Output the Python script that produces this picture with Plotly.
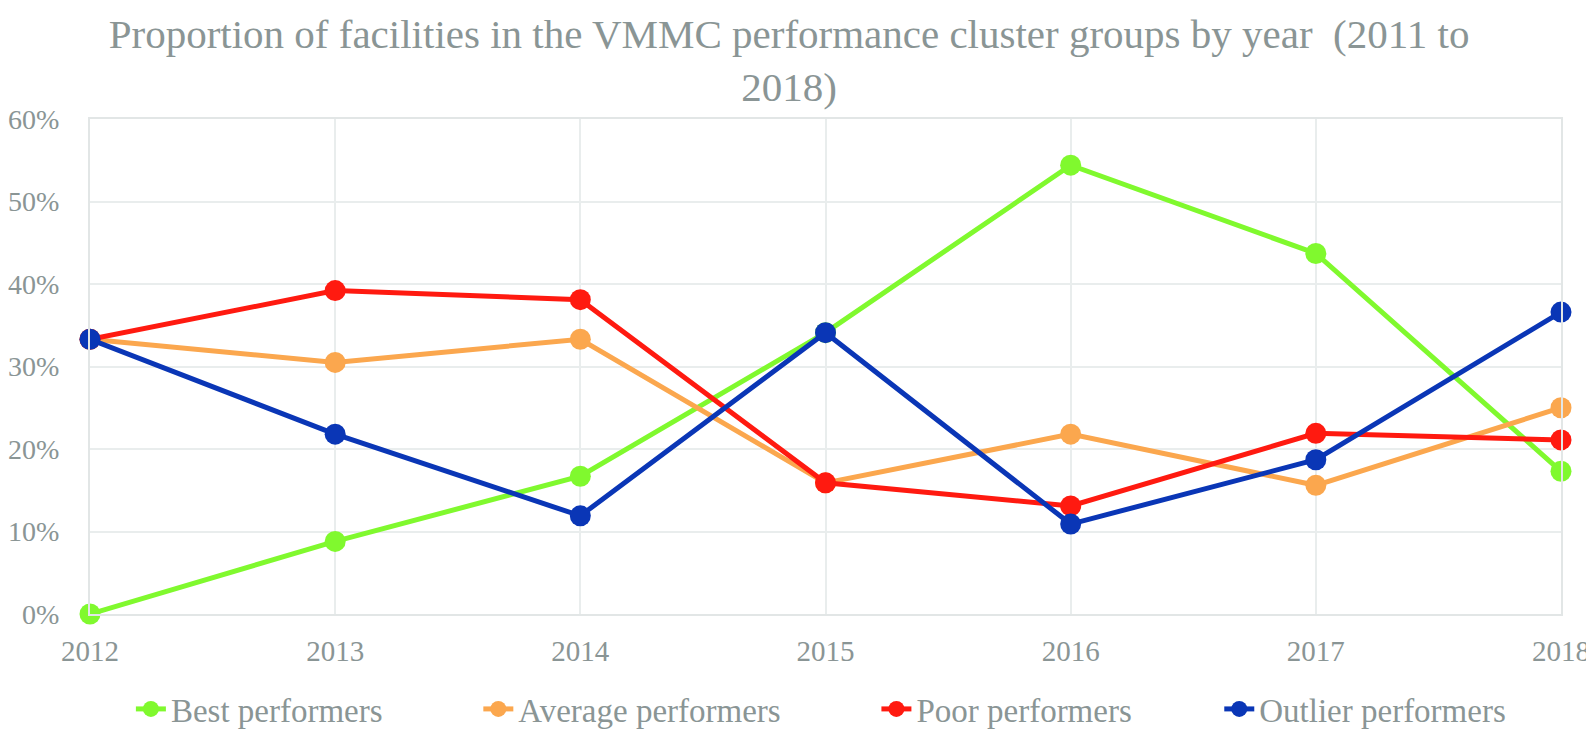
import plotly.graph_objects as go

years = [2012, 2013, 2014, 2015, 2016, 2017, 2018]
best = [0.0, 8.8, 16.7, 34.1, 54.4, 43.7, 17.3]
average = [33.3, 30.5, 33.3, 15.9, 21.8, 15.6, 25.0]
poor = [33.3, 39.2, 38.1, 15.9, 13.1, 21.9, 21.1]
outlier = [33.3, 21.8, 11.9, 34.1, 10.9, 18.7, 36.6]

series_names = ["Best performers", "Average performers", "Poor performers", "Outlier performers"]
series_values = [best, average, poor, outlier]
series_colors = ["#80F92E", "#FBA74E", "#FF1A10", "#0A36B6"]
legend_pad = [11, 11, 10, 0]  # non-breaking spaces after each legend label (spacing only)

y_ticks = [0, 10, 20, 30, 40, 50, 60]
y_tick_labels = ["0%", "10%", "20%", "30%", "40%", "50%", "60%"]

GRAY = "#8A9595"
FONT = "Liberation Serif"

fig = go.Figure()
for name, vals, col, pad in zip(series_names, series_values, series_colors, legend_pad):
    fig.add_trace(go.Scatter(
        x=years, y=vals, name=name + "\u00a0" * pad, mode="lines+markers",
        line=dict(color=col, width=5),
        marker=dict(color=col, size=21),
        cliponaxis=False,
    ))

fig.update_layout(
    width=1594, height=732,
    paper_bgcolor="white", plot_bgcolor="white",
    margin=dict(l=82, r=41, t=111, b=126),
    font=dict(family=FONT, color=GRAY, size=28),
    title=dict(
        text="Proportion of facilities in the VMMC performance cluster groups by year  (2011 to<br>2018)",
        font=dict(family=FONT, size=41, color=GRAY),
        x=0.490, xref="container", xanchor="center",
        y=1 - 39.5 / 732, yref="container", yanchor="middle",
    ),
    showlegend=True,
    legend=dict(
        orientation="h", x=0.0771, xanchor="left", xref="container",
        y=0.0424, yref="container", yanchor="middle",
        font=dict(family=FONT, size=33, color=GRAY),
    ),
)
fig.update_xaxes(
    range=[2012, 2018], tickvals=years, ticktext=[str(y) for y in years],
    showgrid=True, gridcolor="#E9EDED", gridwidth=2,
    showline=True, linecolor="#E2E6E6", linewidth=2, mirror=True,
    zeroline=False, ticks="", ticklabelstandoff=10, automargin=False,
    tickfont=dict(family=FONT, size=29, color=GRAY),
)
fig.update_yaxes(
    range=[0, 60], tickvals=y_ticks, ticktext=y_tick_labels,
    showgrid=True, gridcolor="#E9EDED", gridwidth=2,
    showline=True, linecolor="#E2E6E6", linewidth=2, mirror=True,
    zeroline=False, ticks="", ticklabelstandoff=23, automargin=False,
    tickfont=dict(family=FONT, size=28, color=GRAY),
)

fig.write_html("out.html")
